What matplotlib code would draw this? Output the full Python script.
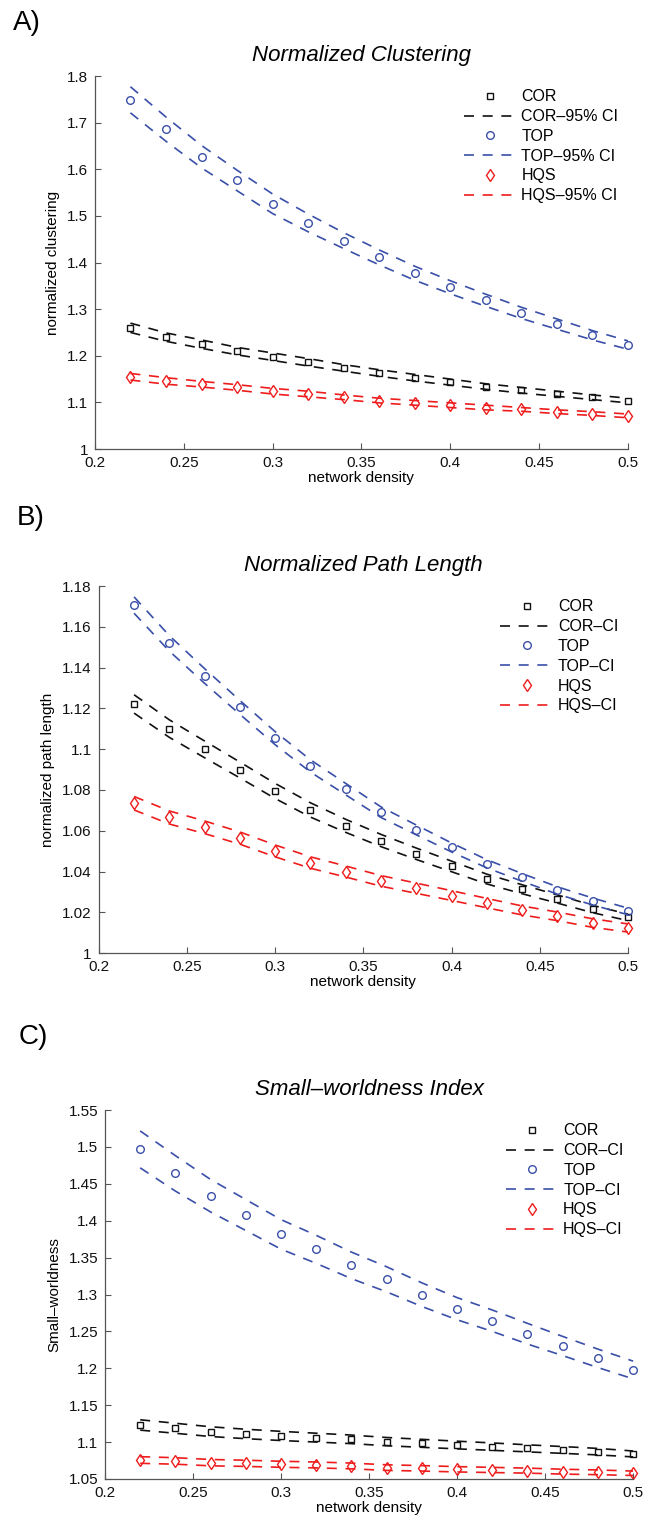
import numpy as np
import matplotlib
matplotlib.use("Agg")
import matplotlib.pyplot as plt
from matplotlib.ticker import FuncFormatter

plt.rcParams['font.family'] = ['Liberation Sans', 'DejaVu Sans']

# network density values (x axis)
density = [0.22, 0.24, 0.26, 0.28, 0.30, 0.32, 0.34, 0.36, 0.38, 0.40, 0.42, 0.44, 0.46, 0.48, 0.50]

# A) normalized clustering
clu_cor = [1.260, 1.240, 1.225, 1.210, 1.198, 1.186, 1.174, 1.163, 1.153, 1.143, 1.134, 1.126, 1.118, 1.111, 1.104]
clu_cor_hi = [1.270, 1.249, 1.234, 1.218, 1.206, 1.194, 1.181, 1.170, 1.160, 1.150, 1.140, 1.132, 1.124, 1.116, 1.109]
clu_cor_lo = [1.250, 1.231, 1.216, 1.202, 1.190, 1.178, 1.167, 1.156, 1.146, 1.137, 1.128, 1.120, 1.113, 1.106, 1.099]
clu_top = [1.749, 1.686, 1.627, 1.576, 1.526, 1.485, 1.447, 1.411, 1.377, 1.347, 1.319, 1.292, 1.268, 1.244, 1.223]
clu_top_hi = [1.777, 1.712, 1.651, 1.598, 1.547, 1.504, 1.464, 1.427, 1.392, 1.361, 1.332, 1.304, 1.279, 1.254, 1.232]
clu_top_lo = [1.721, 1.660, 1.603, 1.554, 1.505, 1.466, 1.430, 1.395, 1.362, 1.333, 1.306, 1.280, 1.257, 1.234, 1.214]
clu_hqs = [1.155, 1.146, 1.139, 1.132, 1.124, 1.118, 1.111, 1.104, 1.099, 1.094, 1.089, 1.085, 1.080, 1.076, 1.071]
clu_hqs_hi = [1.162, 1.153, 1.145, 1.138, 1.130, 1.124, 1.116, 1.109, 1.104, 1.099, 1.094, 1.089, 1.084, 1.080, 1.075]
clu_hqs_lo = [1.148, 1.139, 1.133, 1.126, 1.118, 1.112, 1.106, 1.099, 1.094, 1.089, 1.084, 1.081, 1.076, 1.072, 1.067]

# B) normalized path length
pl_cor = [1.1222, 1.1101, 1.0999, 1.0898, 1.0795, 1.0702, 1.0624, 1.0552, 1.0487, 1.0425, 1.0363, 1.0313, 1.0265, 1.0216, 1.0175]
pl_cor_hi = [1.1267, 1.1144, 1.1040, 1.0937, 1.0832, 1.0737, 1.0656, 1.0582, 1.0515, 1.0451, 1.0387, 1.0335, 1.0285, 1.0234, 1.0191]
pl_cor_lo = [1.1177, 1.1058, 1.0958, 1.0859, 1.0758, 1.0667, 1.0592, 1.0522, 1.0459, 1.0399, 1.0339, 1.0291, 1.0245, 1.0198, 1.0159]
pl_top = [1.1707, 1.1519, 1.1359, 1.1205, 1.1054, 1.0918, 1.0804, 1.0691, 1.0604, 1.0518, 1.0438, 1.0371, 1.0307, 1.0253, 1.0204]
pl_top_hi = [1.1747, 1.1557, 1.1395, 1.1239, 1.1086, 1.0948, 1.0832, 1.0717, 1.0628, 1.0540, 1.0458, 1.0390, 1.0325, 1.0270, 1.0220]
pl_top_lo = [1.1667, 1.1481, 1.1323, 1.1171, 1.1022, 1.0888, 1.0776, 1.0665, 1.0580, 1.0496, 1.0418, 1.0352, 1.0289, 1.0236, 1.0188]
pl_hqs = [1.0735, 1.0665, 1.0617, 1.0564, 1.0501, 1.0444, 1.0400, 1.0354, 1.0318, 1.0282, 1.0245, 1.0209, 1.0180, 1.0147, 1.0123]
pl_hqs_hi = [1.0768, 1.0697, 1.0648, 1.0594, 1.0530, 1.0472, 1.0427, 1.0380, 1.0343, 1.0306, 1.0268, 1.0231, 1.0201, 1.0168, 1.0143]
pl_hqs_lo = [1.0702, 1.0633, 1.0586, 1.0534, 1.0472, 1.0416, 1.0373, 1.0328, 1.0293, 1.0258, 1.0222, 1.0187, 1.0159, 1.0126, 1.0103]

# C) small-worldness index
sw_cor = [1.1232, 1.1187, 1.1141, 1.1110, 1.1083, 1.1060, 1.1037, 1.1006, 1.0983, 1.0960, 1.0938, 1.0915, 1.0893, 1.0870, 1.0839]
sw_cor_hi = [1.1302, 1.1255, 1.1207, 1.1174, 1.1145, 1.1120, 1.1095, 1.1062, 1.1037, 1.1012, 1.0988, 1.0963, 1.0939, 1.0914, 1.0879]
sw_cor_lo = [1.1162, 1.1119, 1.1075, 1.1046, 1.1021, 1.1000, 1.0979, 1.0950, 1.0929, 1.0908, 1.0888, 1.0867, 1.0847, 1.0826, 1.0799]
sw_top = [1.4967, 1.4642, 1.4339, 1.4077, 1.3815, 1.3612, 1.3395, 1.3206, 1.2998, 1.2808, 1.2645, 1.2469, 1.2302, 1.2135, 1.1977]
sw_top_hi = [1.5217, 1.4882, 1.4559, 1.4287, 1.4015, 1.3802, 1.3575, 1.3376, 1.3158, 1.2958, 1.2790, 1.2609, 1.2432, 1.2260, 1.2097]
sw_top_lo = [1.4717, 1.4402, 1.4119, 1.3867, 1.3615, 1.3422, 1.3215, 1.3036, 1.2838, 1.2658, 1.2500, 1.2329, 1.2172, 1.2010, 1.1857]
sw_hqs = [1.0757, 1.0744, 1.0721, 1.0712, 1.0699, 1.0690, 1.0676, 1.0654, 1.0644, 1.0631, 1.0622, 1.0613, 1.0599, 1.0590, 1.0577]
sw_hqs_hi = [1.0802, 1.0788, 1.0764, 1.0754, 1.0740, 1.0730, 1.0715, 1.0692, 1.0681, 1.0667, 1.0657, 1.0647, 1.0632, 1.0622, 1.0607]
sw_hqs_lo = [1.0712, 1.0700, 1.0678, 1.0670, 1.0658, 1.0650, 1.0637, 1.0616, 1.0607, 1.0595, 1.0587, 1.0579, 1.0566, 1.0558, 1.0547]

BLACK = '#111111'
BLUE = '#3a4fa8'
RED = '#ee1c1c'
AXC = '#555555'
DASH = (6.0, 5.2)

panels = [
    dict(tag='A)', title='Normalized Clustering', ylabel='normalized clustering',
         ci='95% CI', ylim=(1.0, 1.8), yticks=np.arange(1.0, 1.81, 0.1),
         rect=[0.146, 0.7046, 0.820, 0.2454],
         series=[(clu_cor, clu_cor_lo, clu_cor_hi), (clu_top, clu_top_lo, clu_top_hi),
                 (clu_hqs, clu_hqs_lo, clu_hqs_hi)]),
    dict(tag='B)', title='Normalized Path Length', ylabel='normalized path length',
         ci='CI', ylim=(1.0, 1.18), yticks=np.arange(1.0, 1.181, 0.02),
         rect=[0.152, 0.373, 0.814, 0.2414],
         series=[(pl_cor, pl_cor_lo, pl_cor_hi), (pl_top, pl_top_lo, pl_top_hi),
                 (pl_hqs, pl_hqs_lo, pl_hqs_hi)]),
    dict(tag='C)', title='Small\u2013worldness Index', ylabel='Small\u2013worldness',
         ci='CI', ylim=(1.05, 1.55), yticks=np.arange(1.05, 1.551, 0.05),
         rect=[0.1615, 0.027, 0.8125, 0.2427],
         series=[(sw_cor, sw_cor_lo, sw_cor_hi), (sw_top, sw_top_lo, sw_top_hi),
                 (sw_hqs, sw_hqs_lo, sw_hqs_hi)]),
]

groups = [('COR', BLACK, 's', 5.0), ('TOP', BLUE, 'o', 5.5), ('HQS', RED, 'd', 6.0)]
tag_y = [1 - 23 / 1520, 1 - 518 / 1520, 1 - 1037 / 1520]
tag_x = [0.020, 0.026, 0.028]

fig = plt.figure(figsize=(6.5, 15.2), dpi=100)

for i, p in enumerate(panels):
    ax = fig.add_axes(p['rect'])
    for (name, col, mk, ms), (mid, lo, hi) in zip(groups, p['series']):
        ax.plot(density, mid, linestyle='none', marker=mk, markersize=ms,
                markerfacecolor='none', markeredgecolor=col, markeredgewidth=1.0,
                clip_on=False, label=name)
        ax.plot(density, hi, color=col, linestyle='--', dashes=DASH, linewidth=1.2,
                clip_on=False, label=name + '\u2013' + p['ci'])
        ax.plot(density, lo, color=col, linestyle='--', dashes=DASH, linewidth=1.2,
                clip_on=False)

    ax.set_xlim(0.2, 0.5)
    ax.set_ylim(*p['ylim'])
    ax.set_xticks(np.arange(0.2, 0.501, 0.05))
    ax.set_yticks(p['yticks'])
    ax.xaxis.set_major_formatter(FuncFormatter(lambda v, pos: '%g' % round(v, 3)))
    ax.yaxis.set_major_formatter(FuncFormatter(lambda v, pos: '%g' % round(v, 3)))
    for s in ['top', 'right']:
        ax.spines[s].set_visible(False)
    for s in ['left', 'bottom']:
        ax.spines[s].set_color(AXC)
        ax.spines[s].set_linewidth(0.9)
    ax.tick_params(direction='in', length=4, width=0.8, color=AXC,
                   labelsize=11, pad=5, labelcolor='#111111')

    ax.set_title(p['title'], fontsize=16, style='italic', pad=11)
    ax.set_xlabel('network density', fontsize=11, labelpad=1)
    ax.set_ylabel(p['ylabel'], fontsize=11, labelpad=5)

    ax.legend(loc='upper right', bbox_to_anchor=(1.0, 0.99), frameon=False,
              fontsize=11.5, handlelength=3.3, handletextpad=0.3,
              labelspacing=0.3, borderaxespad=0.2)

    fig.text(tag_x[i], tag_y[i], p['tag'], fontsize=20, va='center', ha='left')

fig.savefig('out.png', dpi=100)
